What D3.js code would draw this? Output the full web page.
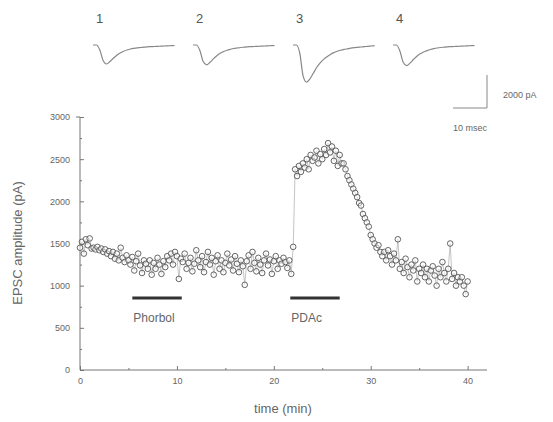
<!DOCTYPE html>
<html>
<head>
<meta charset="utf-8">
<script src="https://d3js.org/d3.v7.min.js"></script>
<style>
  body { margin: 0; background: #fff; }
  svg { font-family: "Liberation Sans", Arial, sans-serif; }
  .tick text { fill: #666; font-size: 9px; }
  .domain, .tick line { stroke: #777; }
</style>
</head>
<body>
<div id="chart"></div>
<script>
// sampling step of the amplitude series (min)
var stepMin = 0.2;

// EPSC amplitude (pA), one value every 0.2 min from t = 0
var amplitude = [
  1450, 1520, 1380, 1550, 1480, 1560,
  1440, 1450, 1430, 1460, 1420, 1440, 1400, 1430, 1380, 1410,
  1350, 1400, 1320, 1380, 1300, 1450, 1330, 1280, 1360, 1300,
  1250, 1340, 1180, 1290, 1380, 1240, 1150, 1300, 1260, 1200,
  1300, 1130, 1270, 1200, 1330, 1250, 1140, 1290, 1220, 1350,
  1300, 1380, 1250, 1400, 1350, 1080, 1320, 1280, 1380, 1200,
  1270, 1330, 1170, 1260, 1420, 1300, 1220, 1350, 1160, 1280,
  1400, 1250, 1330, 1130, 1290, 1360, 1200, 1300, 1160, 1270,
  1380, 1240, 1310, 1180, 1350, 1260, 1160, 1300, 1230, 1010,
  1290, 1360, 1200, 1400, 1270, 1170, 1330, 1250, 1150, 1300,
  1380, 1240, 1310, 1140, 1290, 1350, 1200, 1300, 1260, 1330,
  1280, 1210, 1300, 1140, 1460,
  2380, 2300, 2420, 2350, 2450,
  2400, 2500, 2380, 2550, 2480, 2520, 2600, 2450, 2560, 2500,
  2620, 2550, 2690, 2580, 2650, 2480, 2600, 2420, 2550, 2450,
  2450, 2380, 2300, 2250, 2200, 2150, 2100, 2050, 1980, 1950,
  1850, 1800, 1750, 1700, 1600, 1550, 1500, 1450, 1480, 1400,
  1350, 1400, 1300, 1420, 1350, 1250, 1380, 1300, 1550, 1200,
  1280, 1150, 1320, 1220, 1100, 1250, 1180, 1300, 1050, 1200,
  1150, 1250, 1100, 1200, 1050, 1180, 1230, 1120, 1000, 1200,
  1100, 1280, 1150, 1050, 1200, 1500, 1080, 1150, 1000, 1100,
  1050, 1100, 1000, 900, 1050
];

// drug application periods (min)
var drugs = [
  { name: "Phorbol", start: 5.4, end: 10.5 },
  { name: "PDAc", start: 21.7, end: 26.8 }
];

// example current traces (pA), sampled every 1 ms
var traceLabels = ["1", "2", "3", "4"];
var traces = [
  [0, 0, -300, -950, -1150, -1000, -800, -620, -480, -380, -300, -240, -200, -170, -150, -130, -110, -100, -90, -80, -70, -60, -50, -40, -30],
  [0, 0, -320, -1000, -1200, -1050, -840, -650, -500, -400, -320, -260, -210, -180, -150, -130, -110, -100, -90, -80, -70, -60, -50, -40, -30],
  [0, 0, -500, -1900, -2250, -2050, -1700, -1350, -1080, -870, -710, -570, -460, -380, -320, -270, -230, -190, -160, -140, -120, -100, -80, -60, -40],
  [0, 0, -350, -1050, -1250, -1100, -880, -680, -530, -420, -340, -270, -220, -180, -150, -130, -110, -100, -90, -80, -70, -60, -50, -40, -30]
];

var xTicks = [0, 10, 20, 30, 40];
var yTicks = [0, 500, 1000, 1500, 2000, 2500, 3000];

var width = 553, height = 422;

var svg = d3.select("#chart").append("svg")
  .attr("width", width)
  .attr("height", height);

/* Scales */
var xScale = d3.scaleLinear().domain([0, 42]).range([80, 487]);
var yScale = d3.scaleLinear().domain([0, 3000]).range([370, 117]);

/* Axes */
var xAxis = d3.axisBottom(xScale).tickValues(xTicks).tickSize(-4).tickPadding(8).tickFormat(d3.format("d"));
var xMinor = d3.axisBottom(xScale).tickValues([5, 15, 25, 35]).tickSize(-2).tickFormat("");
var yAxis = d3.axisLeft(yScale).tickValues(yTicks).tickSize(-4).tickPadding(10).tickFormat(d3.format("d"));
var yMinor = d3.axisLeft(yScale).tickValues([250, 750, 1250, 1750, 2250, 2750]).tickSize(-2).tickFormat("");

svg.append("g").attr("transform", "translate(0,370)").call(xMinor).select(".domain").remove();
svg.append("g").attr("transform", "translate(80,0)").call(yMinor).select(".domain").remove();

var gx = svg.append("g").attr("class", "x axis")
  .attr("transform", "translate(0,370)")
  .call(xAxis);
gx.select(".domain").attr("d", "M80,0H487");
gx.selectAll(".tick text").attr("font-size", 10);

var gy = svg.append("g").attr("class", "y axis")
  .attr("transform", "translate(80,0)")
  .call(yAxis);
gy.select(".domain").attr("d", "M0,370V117H-4");

svg.append("text")
  .attr("x", 283).attr("y", 413)
  .attr("text-anchor", "middle")
  .attr("fill", "#666").attr("font-size", 13)
  .text("time (min)");

svg.append("text")
  .attr("transform", "translate(22,243) rotate(-90)")
  .attr("text-anchor", "middle")
  .attr("fill", "#666").attr("font-size", 13)
  .text("EPSC amplitude (pA)");

/* Data */
var points = amplitude.map(function(v, i) { return { t: i * stepMin, v: v }; });

var line = d3.line()
  .x(d => xScale(d.t))
  .y(d => yScale(d.v));

svg.append("path")
  .datum(points)
  .attr("d", line)
  .attr("fill", "none")
  .attr("stroke", "#aaa")
  .attr("stroke-width", 0.7);

svg.append("g")
  .selectAll("circle")
  .data(points).enter()
  .append("circle")
  .attr("cx", d => xScale(d.t))
  .attr("cy", d => yScale(d.v))
  .attr("r", 2.8)
  .attr("fill", "#fff")
  .attr("fill-opacity", 0.5)
  .attr("stroke", "#555")
  .attr("stroke-width", 0.9);

/* Drug bars */
var dg = svg.append("g").selectAll("g").data(drugs).enter().append("g");
dg.append("line")
  .attr("x1", d => xScale(d.start))
  .attr("x2", d => xScale(d.end))
  .attr("y1", 298).attr("y2", 298)
  .attr("stroke", "#333").attr("stroke-width", 3);
dg.append("text")
  .attr("x", d => xScale(d.start) + 1)
  .attr("y", 322)
  .attr("fill", "#666").attr("font-size", 12)
  .text(d => d.name);

/* Traces */
var tScale = d3.scaleLinear().domain([0, 10]).range([0, 34]);
var iScale = d3.scaleLinear().domain([0, -2000]).range([45, 78]);
var traceLine = d3.line()
  .x((d, i) => tScale(i))
  .y(d => iScale(d))
  .curve(d3.curveMonotoneX);

var tg = svg.append("g").selectAll("g").data(traces).enter().append("g")
  .attr("transform", (d, i) => `translate(${93 + i * 100},0)`);
tg.append("path")
  .attr("d", traceLine)
  .attr("fill", "none")
  .attr("stroke", "#888")
  .attr("stroke-width", 1.2);
tg.append("text")
  .attr("x", 3).attr("y", 23)
  .attr("fill", "#555").attr("font-size", 13)
  .text((d, i) => traceLabels[i]);

/* Scale bar */
svg.append("path")
  .attr("d", `M${487 - tScale(10)},${iScale(0) + 63}H487V${iScale(0) + 63 - (iScale(-2000) - iScale(0))}`)
  .attr("fill", "none").attr("stroke", "#888").attr("stroke-width", 1);
svg.append("text")
  .attr("x", 503).attr("y", 98)
  .attr("fill", "#666").attr("font-size", 9)
  .text("2000 pA");
svg.append("text")
  .attr("x", 470).attr("y", 131)
  .attr("text-anchor", "middle")
  .attr("fill", "#666").attr("font-size", 9)
  .text("10 msec");
</script>
</body>
</html>
